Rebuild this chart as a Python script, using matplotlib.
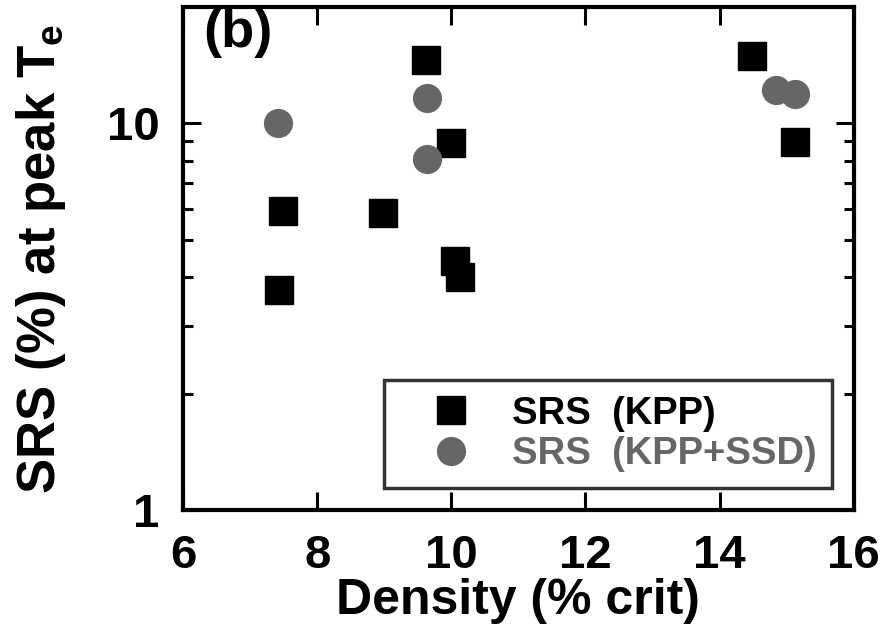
import matplotlib
matplotlib.use('Agg')
import matplotlib.pyplot as plt
from matplotlib.ticker import FixedLocator, NullFormatter

plt.rcParams['font.family'] = ['Liberation Sans', 'DejaVu Sans']
plt.rcParams['font.weight'] = 'bold'
plt.rcParams['mathtext.fontset'] = 'custom'
plt.rcParams['mathtext.rm'] = 'Liberation Sans:bold'
plt.rcParams['mathtext.bf'] = 'Liberation Sans:bold'

# SRS (KPP) - squares
kpp_density = [7.43, 7.49, 8.98, 9.62, 9.99, 10.05, 10.13, 14.49, 15.12]
kpp_srs = [3.7, 5.95, 5.85, 14.6, 8.9, 4.4, 4.0, 14.9, 8.95]

# SRS (KPP+SSD) - circles
ssd_density = [7.41, 9.63, 9.63, 14.84, 15.12]
ssd_srs = [10.05, 11.6, 8.1, 12.2, 11.9]

x_ticks = [6, 8, 10, 12, 14, 16]
y_ticks = [1, 10]
y_minor = [2, 3, 4, 5, 6, 7, 8, 9]

fig = plt.figure(figsize=(8.93, 6.33), dpi=100)
ax = fig.add_axes([0.205, 0.194, 0.751, 0.795])

ax.plot(kpp_density, kpp_srs, 's', color='black', markersize=20, label='SRS  (KPP)')
ax.plot(ssd_density, ssd_srs, 'o', color='#666666', markersize=20, label='SRS  (KPP+SSD)')

ax.set_yscale('log')
ax.set_xlim(6, 16)
ax.set_ylim(1, 20)
ax.set_xticks(x_ticks)
ax.set_xticklabels([str(t) for t in x_ticks])
ax.yaxis.set_major_locator(FixedLocator(y_ticks))
ax.set_yticklabels([str(t) for t in y_ticks])
ax.yaxis.set_minor_locator(FixedLocator(y_minor))
ax.yaxis.set_minor_formatter(NullFormatter())

for s in ax.spines.values():
    s.set_linewidth(3)
ax.tick_params(which='major', direction='in', length=13, width=2.2,
               top=True, right=True, labelsize=34, pad=17)
ax.tick_params(which='minor', direction='in', length=7, width=2.2,
               left=True, right=True)
ax.tick_params(axis='x', which='minor', bottom=False, top=False)

ax.set_xlabel('Density (% crit)', fontsize=36, fontweight='bold', labelpad=0)
ax.set_ylabel(r'SRS (%) at peak T$_{\mathbf{e}}$', fontsize=38, fontweight='bold', labelpad=28)

ax.text(0.03, 0.998, '(b)', transform=ax.transAxes, fontsize=39,
        fontweight='bold', va='top', ha='left')

leg = ax.legend(loc='lower right', bbox_to_anchor=(0.968, 0.045), fontsize=27.5,
                frameon=True, fancybox=False, edgecolor='black',
                handletextpad=0.25, borderpad=0.4, labelspacing=0.12,
                handlelength=2.7, borderaxespad=0)
leg.get_frame().set_linewidth(2.5)
leg.get_texts()[1].set_color('#666666')
for h in leg.legend_handles:
    h.set_markersize(20)

fig.savefig('out.png', dpi=100)
